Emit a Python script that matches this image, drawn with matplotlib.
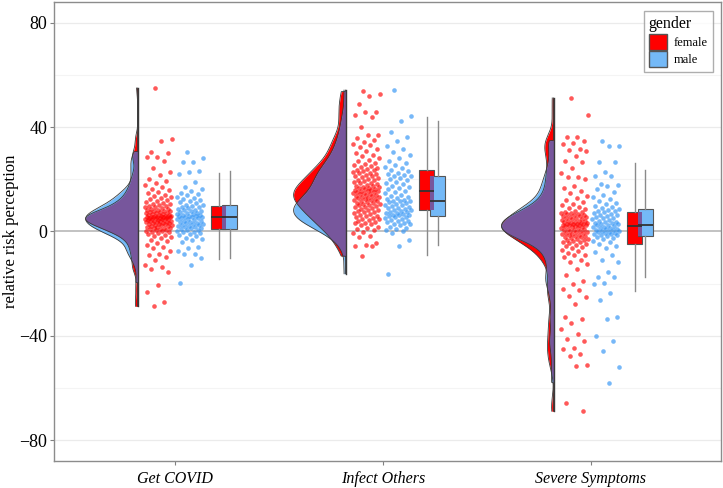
import matplotlib
matplotlib.use("Agg")
import matplotlib.pyplot as plt
from matplotlib.patches import Patch
import numpy as np

plt.rcParams['font.family'] = ['Liberation Serif', 'DejaVu Serif']

categories = ["Get COVID", "Infect Others", "Severe Symptoms"]

# female / male values for each outcome
covid_f = [55, 35.5, 34.6, 30.4, 30.1, 28.7, 28.4, 27.2, 24.2, 22.7, 21.5, 20.3, 19.4, 18.6, 17.8, 17.1, 16.4, 15.8, 15.2, 14.6,
           14.1, 13.6, 13.2, 12.8, 12.4, 12.0, 11.6, 11.3, 11.0, 10.7, 10.4, 10.1, 9.9,
           9.6, 9.4, 9.2, 9.0, 8.8, 8.6, 8.4, 8.2, 8.0, 7.9, 7.7, 7.5, 7.4, 7.2, 7.0, 6.9, 6.8, 6.6, 6.5, 6.3, 6.2, 6.1, 6.0,
           5.9, 5.8, 5.7, 5.7, 5.6, 5.5, 5.5, 5.4, 5.4, 5.3,
           5.2, 5.1, 5.0, 4.9, 4.8, 4.7, 4.6, 4.5, 4.4, 4.3, 4.2, 4.1, 4.0, 3.9, 3.8, 3.6, 3.5, 3.4, 3.2, 3.1, 3.0, 2.8, 2.7,
           2.6, 2.4, 2.3, 2.1, 2.0, 1.8, 1.7, 1.5, 1.4, 1.2,
           1.0, 0.8, 0.6, 0.4, 0.2, 0.0, -0.1, -0.3, -0.6, -0.9, -1.3, -1.7, -2.1, -2.6, -3.1, -3.7, -4.3, -5.0, -5.8, -6.5,
           -7.3, -8.5, -9.2, -9.8, -11.0, -13.0, -13.7, -14.3, -15.6, -20.4, -23.2, -27.1, -28.7]
covid_m = [30.6, 28.1, 26.8, 26.5, 23.1, 22.7, 21.9, 18.9, 17.0, 16.3, 15.7, 14.9, 14.3, 13.8, 13.3, 12.8, 12.4, 12.0, 11.6,
           11.2, 10.8, 10.3,
           10.0, 9.8, 9.5, 9.2, 9.0, 8.7, 8.4, 8.2, 7.9, 7.7, 7.4, 7.2, 7.0, 6.8, 6.6, 6.4, 6.3, 6.1, 6.0, 5.8, 5.7, 5.6,
           5.4, 5.2, 5.0, 4.8, 4.6, 4.4, 4.2, 4.0, 3.8, 3.6, 3.4, 3.2, 3.0, 2.8, 2.6, 2.4, 2.2, 2.0, 1.8, 1.6, 1.4, 1.2,
           1.0, 0.7, 0.4, 0.1, -0.2, -0.3, -0.5, -0.9, -1.3, -1.8, -2.4, -3.0, -3.4, -4.1, -6.0, -6.4, -7.3, -8.5, -8.8,
           -10.0, -13.0, -19.6]
infect_f = [53.7, 52.7, 51.8, 48.9, 45.7, 45.7, 44.8, 44.0, 40.2, 37.1, 36.8, 36.0, 35.2, 34.4, 33.7, 33.0, 32.2, 31.5,
            30.8, 30.1, 29.4, 28.8, 28.1, 27.5, 26.9, 26.4, 25.9, 25.4, 25.0, 24.6, 24.3, 24.0, 23.7,
            23.5, 23.2, 22.9, 22.6, 22.3, 22.0, 21.7, 21.4, 21.1, 20.8, 20.5, 20.2, 19.9, 19.6, 19.3, 19.0, 18.7, 18.4,
            18.1, 17.8, 17.6, 17.3, 17.1, 16.9, 16.7, 16.5, 16.3, 16.1, 15.9, 15.8, 15.6, 15.5, 15.4,
            15.3, 15.1, 14.9, 14.7, 14.5, 14.3, 14.1, 13.9, 13.7, 13.5, 13.3, 13.1, 12.9, 12.7, 12.5, 12.3, 12.1, 11.9,
            11.7, 11.5, 11.3, 11.1, 10.9, 10.7, 10.5, 10.3, 10.1, 9.8, 9.5, 9.2, 8.9, 8.6, 8.4,
            8.2, 7.9, 7.6, 7.3, 7.0, 6.7, 6.4, 6.1, 5.8, 5.5, 5.2, 4.9, 4.6, 4.3, 4.0, 3.7, 3.4, 3.1, 2.7, 2.3, 1.9, 1.5,
            1.0, 0.4, -0.3, -0.6, -1.9, -2.2, -4.5, -5.0, -5.4, -5.5, -9.5]
infect_m = [54.2, 44.4, 42.2, 38.0, 36.1, 34.8, 32.7, 31.5, 30.3, 29.2, 28.1, 27.2, 26.3, 25.5, 24.8, 24.2, 23.6, 23.0,
            22.5, 22.1, 21.7, 21.4,
            21.1, 20.6, 20.1, 19.6, 19.1, 18.6, 18.1, 17.6, 17.1, 16.6, 16.1, 15.6, 15.1, 14.6, 14.1, 13.6, 13.2, 12.8,
            12.4, 12.1, 11.8, 11.7,
            11.5, 11.2, 10.9, 10.6, 10.3, 10.0, 9.7, 9.4, 9.1, 8.9, 8.6, 8.4, 8.1, 7.9, 7.6, 7.4, 7.1, 6.9, 6.7, 6.5,
            6.3, 6.2,
            6.0, 5.7, 5.4, 5.1, 4.8, 4.5, 4.2, 3.9, 3.6, 3.3, 3.0, 2.7, 2.3, 1.9, 1.5, 1.1, 0.6, 0.1, -0.4, -3.4, -5.4,
            -16.2]
severe_f = [51.2, 44.8, 36.1, 36.1, 34.5, 33.8, 33.6, 31.7, 31.4, 31.0, 29.1, 27.2, 26.5, 24.2, 22.5, 20.8, 20.8, 20.2,
            17.6, 16.5, 15.5, 14.6, 13.7, 12.9, 12.1, 11.4, 10.7, 10.1, 9.5, 9.0, 8.5, 8.0, 7.6,
            7.4, 7.2, 7.0, 6.8, 6.6, 6.4, 6.2, 6.0, 5.8, 5.6, 5.4, 5.2, 5.0, 4.8, 4.6, 4.4, 4.2, 4.0, 3.9, 3.7, 3.6, 3.4,
            3.3, 3.2, 3.0, 2.9, 2.8, 2.7, 2.6, 2.5, 2.4, 2.3, 2.2,
            2.1, 1.9, 1.7, 1.5, 1.3, 1.1, 0.9, 0.7, 0.5, 0.3, 0.1, -0.1, -0.3, -0.5, -0.7, -0.9, -1.1, -1.3, -1.5, -1.7,
            -1.9, -2.1, -2.3, -2.5, -2.7, -2.9, -3.1, -3.3, -3.6, -3.9, -4.2, -4.5, -4.8,
            -5.2, -5.6, -6.0, -6.5, -7.0, -7.6, -8.3, -9.2, -9.2, -9.8, -11.0, -11.7, -12.4, -14.3, -16.8, -18.8, -20.0,
            -21.9, -22.6, -24.9, -25.1, -27.7, -32.8, -33.4, -35.1, -37.3, -39.2, -41.1, -42.0, -44.5, -45.2, -46.8,
            -47.9, -51.3, -51.7, -65.7, -68.9]
severe_m = [34.8, 32.9, 32.7, 26.8, 26.5, 22.7, 21.4, 21.2, 18.3, 18.0, 17.6, 16.2, 15.0, 14.0, 13.1, 12.3, 11.6, 11.0,
            10.4, 9.9, 9.4, 9.0,
            8.6, 8.3, 8.0, 7.7, 7.4, 7.1, 6.8, 6.5, 6.2, 5.9, 5.6, 5.3, 5.0, 4.7, 4.4, 4.1, 3.8, 3.5, 3.3, 3.1, 2.9, 2.7,
            2.5, 2.3, 2.1, 1.9, 1.7, 1.5, 1.3, 1.1, 0.9, 0.7, 0.5, 0.3, 0.1, -0.1, -0.3, -0.5, -0.7, -0.9, -1.1, -1.3,
            -1.5, -1.7,
            -2.1, -2.5, -3.0, -3.5, -4.1, -4.8, -5.5, -6.4, -7.9, -9.2, -11.0, -11.7, -15.6, -17.5, -17.5, -19.6, -20.0,
            -23.6, -26.4, -32.8, -33.4, -40.2, -42.0, -45.8, -52.0, -57.9]

female = [covid_f, infect_f, severe_f]
male = [covid_m, infect_m, severe_m]

# box statistics
f_q1 = [1.1, 8.3, -4.9]
f_med = [5.4, 15.4, 2.2]
f_q3 = [9.6, 23.6, 7.5]
f_lo = [-10.7, -9.2, -23.0]
f_hi = [22.6, 44.0, 26.4]
m_q1 = [1.1, 6.1, -1.9]
m_med = [5.5, 11.6, 2.6]
m_q3 = [10.0, 21.3, 8.8]
m_lo = [-10.0, -5.2, -17.5]
m_hi = [23.0, 42.5, 23.6]

RED = '#FF0000'
BLUE = '#2F93F5'
LBLUE = '#74B9F7'
PURPLE = '#77569C'
EDGE = '#3A3A3A'


def kde(vals, grid):
    v = np.asarray(vals, float)
    n = len(v)
    iqr = np.subtract(*np.percentile(v, [75, 25]))
    bw = 0.9 * min(v.std(ddof=1), iqr / 1.34) * n ** -0.2 * 1.05
    d = np.exp(-0.5 * ((grid[:, None] - v[None, :]) / bw) ** 2).sum(axis=1)
    d[(grid < v.min()) | (grid > v.max())] = 0
    return d


fig = plt.figure(figsize=(7.23, 4.88), dpi=100)
ax = fig.add_axes([0.0747, 0.0553, 0.9225, 0.9407])

for y in [-60, -20, 20, 60]:
    ax.axhline(y, color='#F4F4F4', lw=0.8, zorder=0)
for y in [-80, -40, 40, 80]:
    ax.axhline(y, color='#EBEBEB', lw=0.9, zorder=0)
ax.axhline(0, color='#BDBDBD', lw=1.3, zorder=1)

vw = 0.25
for i in range(3):
    c = i + 1
    edge = c - 0.18
    fv, mv = female[i], male[i]
    lo = min(min(fv), min(mv))
    hi = max(max(fv), max(mv))
    grid = np.linspace(lo, hi, 600)
    fd = kde(fv, grid)
    md = kde(mv, grid)
    fw = vw * fd / fd.max()
    mw = vw * md / md.max()
    ax.fill_betweenx(grid, edge - fw, edge, color=RED, lw=0, zorder=2)
    ax.fill_betweenx(grid, edge - mw, edge, color=LBLUE, lw=0, zorder=2.1)
    ax.fill_betweenx(grid, edge - np.minimum(fw, mw), edge, color=PURPLE, lw=0, zorder=2.2)
    ax.plot(edge - fw, grid, color=EDGE, lw=0.6, zorder=2.3)
    ax.plot(edge - mw, grid, color=EDGE, lw=0.6, zorder=2.3)
    ax.plot([edge, edge], [lo, hi], color=EDGE, lw=1.0, zorder=2.4)

    # jittered points
    for vals, off, col in [(fv, -0.08, RED), (mv, 0.072, BLUE)]:
        k = np.arange(len(vals))
        jit = ((k * 0.6180339887 + 0.37) % 1.0 - 0.5) * 0.13
        ax.scatter(c + off + jit, vals, s=11, color=col, alpha=0.65, lw=0, zorder=3)

# boxplots
bw_ = 0.074
fpos = [c + 0.21 for c in (1, 2, 3)]
mpos = [c + 0.262 for c in (1, 2, 3)]
fstats = [dict(med=f_med[i], q1=f_q1[i], q3=f_q3[i], whislo=f_lo[i], whishi=f_hi[i]) for i in range(3)]
mstats = [dict(med=m_med[i], q1=m_q1[i], q3=m_q3[i], whislo=m_lo[i], whishi=m_hi[i]) for i in range(3)]
for stats, pos, col in [(fstats, fpos, RED), (mstats, mpos, LBLUE)]:
    ax.bxp(stats, positions=pos, widths=bw_, patch_artist=True, showfliers=False, showcaps=False,
           manage_ticks=False,
           boxprops=dict(facecolor=col, edgecolor='#555555', lw=0.8),
           whiskerprops=dict(color='#8A8A8A', lw=1.0),
           medianprops=dict(color='#333333', lw=1.3, zorder=4))
for i in range(3):
    ylo = max(f_q1[i], m_q1[i])
    yhi = min(f_q3[i], m_q3[i])
    ax.fill_between([mpos[i] - bw_ / 2, fpos[i] + bw_ / 2], ylo, yhi, color=PURPLE, lw=0, zorder=3.5)

ax.set_xlim(0.418, 3.625)
ax.set_ylim(-88, 88)
ax.set_xticks([1, 2, 3])
ax.set_xticklabels(categories, fontsize=11.5, style='italic')
ax.set_yticks([-80, -40, 0, 40, 80])
ax.set_yticklabels(['\u221280', '\u221240', '0', '40', '80'], fontsize=13)
ax.tick_params(axis='both', length=3, color='#808080', pad=2)
ax.tick_params(axis='x', pad=4)
ax.set_ylabel('relative risk perception', fontsize=12)
ax.yaxis.set_label_coords(-0.052, 0.5)
for s in ax.spines.values():
    s.set_color('#8C8C8C')
    s.set_linewidth(1.0)

handles = [Patch(facecolor=RED, edgecolor='#555555', label='female'),
           Patch(facecolor=LBLUE, edgecolor='#555555', label='male')]
leg = ax.legend(handles=handles, title='gender', loc='upper right', fontsize=9, title_fontsize=11.5,
                frameon=True, fancybox=False, edgecolor='#9A9A9A', handlelength=1.5, handleheight=1.5,
                handletextpad=0.5, borderpad=0.4, labelspacing=0.15, bbox_to_anchor=(0.997, 0.993))
leg._legend_box.align = 'left'

fig.savefig('out.png', dpi=100)
